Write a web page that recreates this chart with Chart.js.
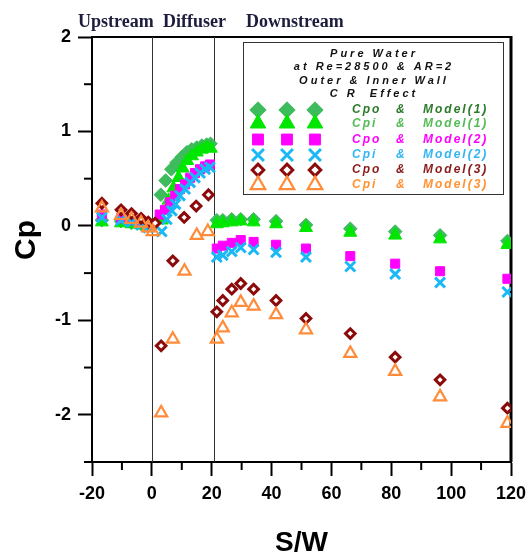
<!DOCTYPE html>
<html>
<head>
<meta charset="utf-8">
<title>Cp vs S/W</title>
<script src="https://cdn.jsdelivr.net/npm/chart.js@4.4.1/dist/chart.umd.min.js"></script>
<style>
  html, body { margin: 0; padding: 0; background: #fff; }
  #wrap { width: 530px; height: 555px; }
</style>
</head>
<body>
<div id="wrap"><canvas id="cp-chart" width="530" height="555"></canvas></div>
<script>
/* Cp along the diffuser - CR effect */

// ── Data ──────────────────────────────────────────────────────────────────

var xTickLabels = [-20, 0, 20, 40, 60, 80, 100, 120];
var yTickLabels = [-2, -1, 0, 1, 2];

var upstreamX   = [-16.7, -10.3, -6.8, -3.6, -1.2];
var downstreamX = [21.7, 23.7, 26.7, 29.7, 34, 41.5, 51.5, 66.3, 81.3, 96.3, 118.8];

// Cpo & Model(1)
var cpoM1DiffX = [3, 4.6, 6.5, 8.3, 10, 11.7, 13.3, 15, 16.7, 18.3, 19.6];
var cpoM1Up    = [0.06, 0.05, 0.03, 0.02, 0.01];
var cpoM1Diff  = [0.33, 0.48, 0.60, 0.67, 0.73, 0.78, 0.81, 0.83, 0.85, 0.86, 0.87];
var cpoM1Down  = [0.06, 0.06, 0.07, 0.07, 0.07, 0.05, 0.01, -0.03, -0.06, -0.10, -0.16];

// Cpi & Model(1)
var cpiM1DiffX = [3.3, 5.6, 7.2, 8.9, 10.3, 11.8, 13.4, 15, 16.7, 18.3, 19.7];
var cpiM1Up    = [0.04, 0.03, 0.02, 0.01, -0.01];
var cpiM1Diff  = [0.06, 0.27, 0.40, 0.51, 0.61, 0.69, 0.74, 0.78, 0.81, 0.83, 0.82];
var cpiM1Down  = [0.02, 0.03, 0.04, 0.05, 0.04, 0.02, -0.02, -0.07, -0.10, -0.14, -0.20];

// Cpo & Model(2)
var cpoM2DiffX = [2.6, 4.4, 6.1, 7.8, 9.4, 11.1, 12.8, 14.4, 16.1, 17.8, 19.4];
var cpoM2Up    = [0.12, 0.08, 0.06, 0.04, 0.02];
var cpoM2Diff  = [0.12, 0.17, 0.25, 0.32, 0.39, 0.44, 0.51, 0.56, 0.60, 0.63, 0.65];
var cpoM2Down  = [-0.24, -0.21, -0.18, -0.15, -0.17, -0.20, -0.24, -0.32, -0.40, -0.48, -0.56];

// Cpi & Model(2)
var cpiM2DiffX = [3.3, 5, 6.7, 7.9, 9.4, 11.1, 12.8, 14.4, 16.1, 17.8, 19.4];
var cpiM2Up    = [0.09, 0.06, 0.04, 0.01, -0.02];
var cpiM2Diff  = [-0.06, 0.07, 0.16, 0.23, 0.32, 0.39, 0.46, 0.51, 0.56, 0.60, 0.62];
var cpiM2Down  = [-0.33, -0.31, -0.27, -0.23, -0.25, -0.28, -0.33, -0.43, -0.51, -0.60, -0.70];

// Cpo & Model(3)
var cpoM3DiffX = [1.1, 3.1, 7.0, 10.8, 14.8, 18.9];
var cpoM3Up    = [0.24, 0.17, 0.13, 0.08, 0.04];
var cpoM3Diff  = [0.03, -1.27, -0.37, 0.09, 0.21, 0.33];
var cpoM3Down  = [-0.91, -0.79, -0.67, -0.61, -0.67, -0.79, -0.98, -1.14, -1.39, -1.63, -1.93];

// Cpi & Model(3)
var cpiM3DiffX = [0.3, 3.1, 7.0, 10.9, 15, 18.7];
var cpiM3Up    = [0.19, 0.11, 0.07, 0.03, -0.02];
var cpiM3Diff  = [-0.06, -1.98, -1.20, -0.48, -0.10, -0.06];
var cpiM3Down  = [-1.20, -1.08, -0.92, -0.81, -0.85, -0.94, -1.10, -1.35, -1.54, -1.81, -2.09];

var sectionEdges = [0, 20.6];   // diffuser inlet / outlet

// ── Helpers ───────────────────────────────────────────────────────────────

var FONT = 'Arial, "Liberation Sans", Helvetica, sans-serif';

function points(diffX, up, diff, down) {
    var xs = upstreamX.concat(diffX, downstreamX);
    var ys = up.concat(diff, down);
    return xs.map(function (x, i) { return { x: x, y: ys[i] }; });
}

var series = [
    { label: ['Cpo', '&', 'Model(1)'], data: points(cpoM1DiffX, cpoM1Up, cpoM1Diff, cpoM1Down),
      style: 'rectRot',  r: 6.8, fill: '#3dbb5d', stroke: '#3dbb5d', bw: 1, text: '#2a7a2a', order: 6 },
    { label: ['Cpi', '&', 'Model(1)'], data: points(cpiM1DiffX, cpiM1Up, cpiM1Diff, cpiM1Down),
      style: 'triangle', r: 7.5, fill: '#00e600', stroke: '#00e600', bw: 1, text: '#55bb55', order: 5 },
    { label: ['Cpo', '&', 'Model(2)'], data: points(cpoM2DiffX, cpoM2Up, cpoM2Diff, cpoM2Down),
      style: 'rect',     r: 6.4, fill: '#ff00ff', stroke: '#ff00ff', bw: 1, text: '#ff00ff', order: 4 },
    { label: ['Cpi', '&', 'Model(2)'], data: points(cpiM2DiffX, cpiM2Up, cpiM2Diff, cpiM2Down),
      style: 'crossRot', r: 7,   fill: '#1ab8f5', stroke: '#1ab8f5', bw: 3, text: '#33b5f0', order: 3 },
    { label: ['Cpo', '&', 'Model(3)'], data: points(cpoM3DiffX, cpoM3Up, cpoM3Diff, cpoM3Down),
      style: 'rectRot',  r: 4.8, fill: '#ffffff', stroke: '#8b0a0a', bw: 3, text: '#8b1a1a', order: 2 },
    { label: ['Cpi', '&', 'Model(3)'], data: points(cpiM3DiffX, cpiM3Up, cpiM3Diff, cpiM3Down),
      style: 'triangle', r: 7,   fill: 'rgba(255,255,255,0)', stroke: '#ff8c3a', bw: 2.2, text: '#ff9233', order: 1 }
];

// ── Decorations: frame, section lines, minor ticks, header, legend ─────────

var decorPlugin = {
    id: 'decor',
    beforeDatasetsDraw: function (chart) {
        var ctx = chart.ctx, a = chart.chartArea;
        var xs = chart.scales.x, ys = chart.scales.y;
        ctx.save();
        ctx.strokeStyle = '#000';

        // top + right frame
        ctx.lineWidth = 2;
        ctx.beginPath();
        ctx.moveTo(a.left, a.top);
        ctx.lineTo(a.right, a.top);
        ctx.stroke();
        ctx.lineWidth = 3;
        ctx.beginPath();
        ctx.moveTo(a.right, a.top - 1);
        ctx.lineTo(a.right, a.bottom);
        ctx.stroke();

        // diffuser inlet / outlet
        ctx.lineWidth = 1;
        ctx.strokeStyle = '#333';
        sectionEdges.forEach(function (v) {
            var px = Math.round(xs.getPixelForValue(v)) + 0.5;
            ctx.beginPath();
            ctx.moveTo(px, a.top);
            ctx.lineTo(px, a.bottom);
            ctx.stroke();
        });

        // minor ticks
        ctx.strokeStyle = '#000';
        ctx.lineWidth = 2;
        for (var v = -10; v <= 110; v += 20) {
            var px = xs.getPixelForValue(v);
            ctx.beginPath();
            ctx.moveTo(px, a.bottom);
            ctx.lineTo(px, a.bottom + 8);
            ctx.stroke();
        }
        for (var w = -2.5; w <= 2; w += 1) {
            var py = ys.getPixelForValue(w);
            ctx.beginPath();
            ctx.moveTo(a.left - 8, py);
            ctx.lineTo(a.left, py);
            ctx.stroke();
        }

        // header
        ctx.fillStyle = '#1c1c3c';
        ctx.font = 'bold 18px "Liberation Serif", "Times New Roman", serif';
        ctx.textBaseline = 'alphabetic';
        ctx.textAlign = 'left';
        ctx.fillText('Upstream', 78, 27);
        ctx.fillText('Diffuser', 163, 27);
        ctx.fillText('Downstream', 246, 27);

        // y title
        ctx.fillStyle = '#000';
        ctx.font = 'bold 30px ' + FONT;
        ctx.translate(34.5, 240);
        ctx.rotate(-Math.PI / 2);
        ctx.textAlign = 'center';
        ctx.fillText('Cp', 0, 0);
        ctx.restore();
    },
    afterDatasetsDraw: function (chart) {
        var ctx = chart.ctx;
        ctx.save();

        // box
        ctx.fillStyle = '#fff';
        ctx.fillRect(243, 42, 260, 152);
        ctx.strokeStyle = '#333';
        ctx.lineWidth = 1;
        ctx.strokeRect(243.5, 42.5, 260, 152);

        // heading lines
        ctx.fillStyle = '#111';
        ctx.font = 'italic bold 11px ' + FONT;
        ctx.textAlign = 'center';
        ctx.textBaseline = 'middle';
        ctx.letterSpacing = '3px';
        var heading = ['Pure Water', 'at Re=28500 & AR=2', 'Outer & Inner Wall', 'C R  Effect'];
        var headY = [54, 67, 80.5, 94];
        heading.forEach(function (t, i) { ctx.fillText(t, 374, headY[i]); });

        // rows
        var rowY = [110, 123.5, 139.5, 155, 170, 185];
        var markX = [258, 287, 315];
        var textX = [352, 396, 423];
        ctx.font = 'italic bold 12px ' + FONT;
        ctx.textAlign = 'left';
        ctx.letterSpacing = '2px';
        series.forEach(function (s, i) {
            markX.forEach(function (mx) {
                ctx.fillStyle = s.fill;
                ctx.strokeStyle = s.stroke;
                ctx.lineWidth = s.bw;
                Chart.helpers.drawPoint(ctx, {
                    pointStyle: s.style, radius: s.r * 1.2, rotation: 0, borderWidth: s.bw
                }, mx, rowY[i]);
            });
            ctx.fillStyle = s.text;
            s.label.forEach(function (t, j) { ctx.fillText(t, textX[j], rowY[i]); });
        });
        ctx.letterSpacing = '0px';
        ctx.restore();
    }
};

// ── Chart ─────────────────────────────────────────────────────────────────

new Chart(document.getElementById('cp-chart').getContext('2d'), {
    type: 'scatter',
    data: {
        datasets: series.map(function (s) {
            return {
                label: s.label.join(' '),
                data: s.data,
                order: s.order,
                showLine: false,
                pointStyle: s.style,
                pointRadius: s.r,
                pointBackgroundColor: s.fill,
                pointBorderColor: s.stroke,
                pointBorderWidth: s.bw
            };
        })
    },
    options: {
        responsive: false,
        animation: false,
        layout: { padding: { top: 37, right: 19, left: 0, bottom: 0 } },
        plugins: {
            legend: { display: false },
            tooltip: { enabled: false }
        },
        scales: {
            x: {
                type: 'linear',
                min: -20,
                max: 120,
                afterFit: function (scale) {
                    scale.height = 93;
                    scale.paddingLeft = 0;
                    scale.paddingRight = 0;
                },
                border: { display: true, color: '#000', width: 2 },
                grid: {
                    drawOnChartArea: false,
                    drawTicks: true,
                    tickLength: 14,
                    tickWidth: 2,
                    tickColor: function (c) {
                        return c.tick && xTickLabels.indexOf(c.tick.value) >= 0 ? '#000' : 'rgba(0,0,0,0)';
                    }
                },
                ticks: {
                    stepSize: 10,
                    autoSkip: false,
                    maxRotation: 0,
                    padding: 7,
                    color: '#000',
                    font: { family: FONT, size: 18, weight: 'bold' },
                    callback: function (v) { return xTickLabels.indexOf(v) >= 0 ? String(v) : ''; }
                },
                title: {
                    display: true,
                    text: 'S/W',
                    color: '#000',
                    padding: { top: 0, bottom: -2 },
                    font: { family: FONT, size: 28, weight: 'bold', lineHeight: 1 }
                }
            },
            y: {
                type: 'linear',
                min: -2.5,
                max: 2,
                afterFit: function (scale) {
                    scale.width = 92;
                    scale.paddingTop = 0;
                    scale.paddingBottom = 0;
                },
                border: { display: true, color: '#000', width: 2 },
                grid: {
                    drawOnChartArea: false,
                    drawTicks: true,
                    tickLength: 14,
                    tickWidth: 2,
                    tickColor: function (c) {
                        return c.tick && yTickLabels.indexOf(c.tick.value) >= 0 ? '#000' : 'rgba(0,0,0,0)';
                    }
                },
                ticks: {
                    stepSize: 0.5,
                    autoSkip: false,
                    padding: 7,
                    color: '#000',
                    font: { family: FONT, size: 18, weight: 'bold' },
                    callback: function (v) { return yTickLabels.indexOf(v) >= 0 ? String(v) : ''; }
                }
            }
        }
    },
    plugins: [decorPlugin]
});
</script>
</body>
</html>
